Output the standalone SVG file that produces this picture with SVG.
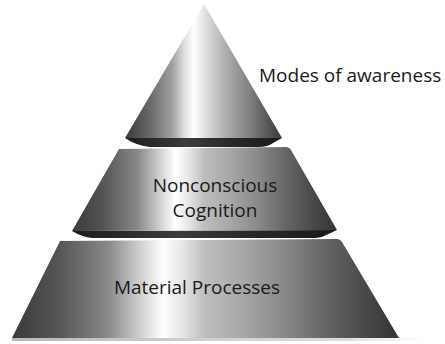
<svg xmlns="http://www.w3.org/2000/svg" width="445" height="344" viewBox="0 0 445 344">
  <defs>
    <linearGradient id="chrome" x1="0" y1="0" x2="1" y2="0">
      <stop offset="0" stop-color="#3a3a3a"/>
      <stop offset="0.12" stop-color="#555"/>
      <stop offset="0.25" stop-color="#8a8a8a"/>
      <stop offset="0.33" stop-color="#cfcfcf"/>
      <stop offset="0.39" stop-color="#ffffff"/>
      <stop offset="0.44" stop-color="#e6e6e6"/>
      <stop offset="0.5" stop-color="#bdbdbd"/>
      <stop offset="0.6" stop-color="#a6a6a6"/>
      <stop offset="0.7" stop-color="#8a8a8a"/>
      <stop offset="0.8" stop-color="#686868"/>
      <stop offset="0.9" stop-color="#4c4c4c"/>
      <stop offset="1" stop-color="#333"/>
    </linearGradient>
    <linearGradient id="chromeCone" x1="0" y1="0" x2="1" y2="0">
      <stop offset="0" stop-color="#3a3a3a"/>
      <stop offset="0.15" stop-color="#666"/>
      <stop offset="0.3" stop-color="#a0a0a0"/>
      <stop offset="0.38" stop-color="#e0e0e0"/>
      <stop offset="0.44" stop-color="#ffffff"/>
      <stop offset="0.52" stop-color="#dcdcdc"/>
      <stop offset="0.65" stop-color="#ababab"/>
      <stop offset="0.78" stop-color="#858585"/>
      <stop offset="0.9" stop-color="#5a5a5a"/>
      <stop offset="1" stop-color="#3a3a3a"/>
    </linearGradient>
    <linearGradient id="under" x1="0" y1="0" x2="1" y2="0">
      <stop offset="0" stop-color="#1c1c1c"/>
      <stop offset="0.4" stop-color="#3c3c3c"/>
      <stop offset="0.7" stop-color="#262626"/>
      <stop offset="1" stop-color="#1a1a1a"/>
    </linearGradient>
    <linearGradient id="shadow" x1="0" y1="0" x2="1" y2="0">
      <stop offset="0" stop-color="#999" stop-opacity="0.7"/>
      <stop offset="0.8" stop-color="#bbb" stop-opacity="0.5"/>
      <stop offset="1" stop-color="#ddd" stop-opacity="0"/>
    </linearGradient>
  </defs>
  <style>
    .lbl { font-family: "Open Sans", "Liberation Sans", sans-serif; font-size: 19px; fill: #1a1a1a; }
    .mid { text-anchor: middle; }
    .under { fill: url(#under); }
  </style>

  <g id="tier-bottom">
    <rect x="12" y="337" width="420" height="4" fill="url(#shadow)"/>
    <path d="M60,241 L338,239 Q341,240 342,242 L399,338 L12,338 Z" fill="url(#chrome)"/>
    <text class="lbl mid" x="197" y="294">Material Processes</text>
  </g>

  <g id="tier-middle">
    <path class="under" d="M72,231 L337,230 L324,236 Q320,238 312,238 L92,238 Q82,237 72,231 Z"/>
    <path d="M119,149 L287,147 Q290,148 291,150 L337,230 L72,231 Z" fill="url(#chrome)"/>
    <text class="lbl mid" x="215" y="192">Nonconscious</text>
    <text class="lbl mid" x="215" y="217">Cognition</text>
  </g>

  <g id="tier-top">
    <path class="under" d="M125,138 L282,138 L273,143 Q268,147 258,147 L150,147 Q137,146 125,138 Z"/>
    <path d="M204,4 L282,138 L125,138 Z" fill="url(#chromeCone)"/>
  </g>

  <g id="label-modes">
    <text class="lbl" x="259" y="82">Modes of awareness</text>
  </g>
</svg>
